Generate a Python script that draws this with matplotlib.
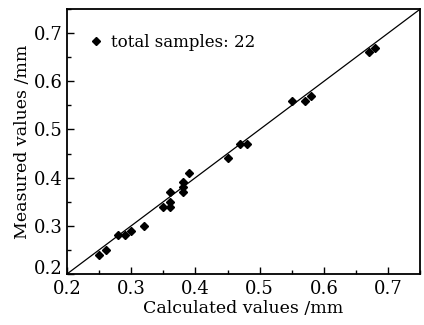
import matplotlib
matplotlib.use('Agg')
from matplotlib import pyplot as plt
from matplotlib.ticker import MultipleLocator
from matplotlib.transforms import ScaledTranslation

# calculated vs measured values, 22 samples
calculated = [0.25, 0.26, 0.28, 0.29, 0.30, 0.32, 0.35, 0.36, 0.36, 0.36, 0.38,
              0.38, 0.38, 0.39, 0.45, 0.47, 0.48, 0.55, 0.57, 0.58, 0.67, 0.68]
measured = [0.24, 0.25, 0.28, 0.28, 0.29, 0.30, 0.34, 0.34, 0.35, 0.37, 0.37,
            0.38, 0.39, 0.41, 0.44, 0.47, 0.47, 0.56, 0.56, 0.57, 0.66, 0.67]
ref_line = [0.2, 0.75]

plt.rcParams['font.family'] = ['DejaVu Serif']
plt.rcParams['mathtext.fontset'] = 'dejavuserif'

fig = plt.figure(figsize=(4.24, 3.25), dpi=100)
ax = fig.add_axes([0.158, 0.157, 0.833, 0.815])

ax.plot(ref_line, ref_line, color='black', linewidth=0.9)
ax.plot(calculated, measured, linestyle='none', marker='D', markersize=4.2,
        color='black', label='total samples: 22')

ax.set_xlim(0.2, 0.75)
ax.set_ylim(0.2, 0.75)
ax.xaxis.set_major_locator(MultipleLocator(0.1))
ax.xaxis.set_minor_locator(MultipleLocator(0.05))
ax.yaxis.set_major_locator(MultipleLocator(0.1))
ax.yaxis.set_minor_locator(MultipleLocator(0.05))
ax.tick_params(which='both', direction='in', labelsize=13, width=1.0)
ax.tick_params(axis='x', pad=4)
ax.tick_params(axis='y', pad=3)
ax.tick_params(which='major', length=5)
ax.tick_params(which='minor', length=3)
for s in ax.spines.values():
    s.set_linewidth(1.3)

ax.set_xlabel('Calculated values /mm', fontsize=12.5, labelpad=2)
ax.set_ylabel('Measured values /mm', fontsize=12.5, labelpad=2)

ax.legend(loc='upper left', bbox_to_anchor=(0.05, 0.93), frameon=False,
          fontsize=12, handlelength=0.6, handletextpad=0.6, borderaxespad=0)

# lift the bottom y label a little, as in the reference
fig.canvas.draw()
for lab in ax.get_yticklabels():
    if lab.get_text() == '0.2':
        lab.set_transform(lab.get_transform() + ScaledTranslation(0, 5 / 72, fig.dpi_scale_trans))

fig.savefig('out.png', dpi=100)
